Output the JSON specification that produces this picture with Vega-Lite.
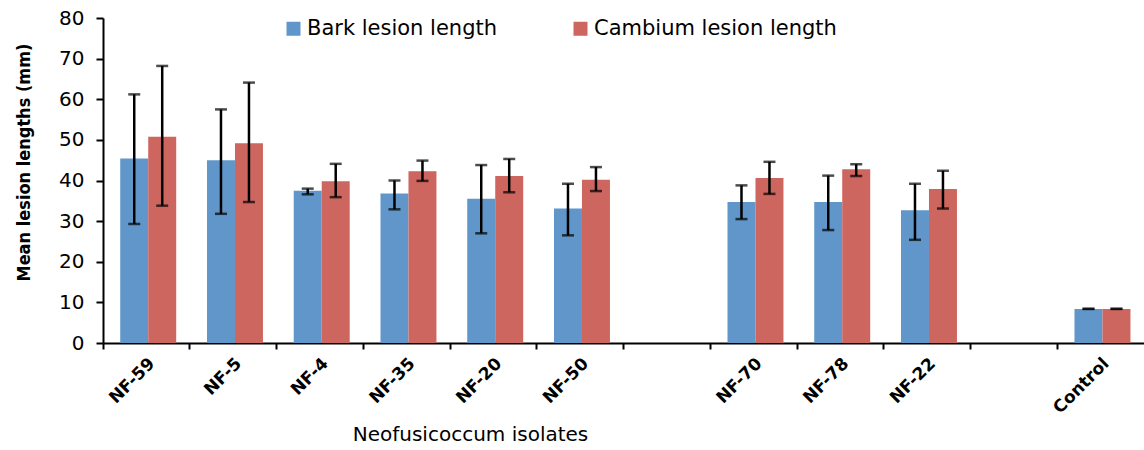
{
  "$schema": "https://vega.github.io/schema/vega-lite/v6.json",
  "width": 1041,
  "height": 325,
  "padding": {"left": 15, "top": 8, "right": 0, "bottom": 0},
  "config": {"view": {"stroke": null}, "font": "DejaVu Sans"},
  "data": {
    "values": [
      {"isolate": "NF-59", "series": "Bark lesion length", "mean": 45.4, "low": 29.3, "high": 61.2},
      {"isolate": "NF-59", "series": "Cambium lesion length", "mean": 50.8, "low": 33.8, "high": 68.2},
      {"isolate": "NF-5", "series": "Bark lesion length", "mean": 45.0, "low": 31.8, "high": 57.5},
      {"isolate": "NF-5", "series": "Cambium lesion length", "mean": 49.2, "low": 34.7, "high": 64.1},
      {"isolate": "NF-4", "series": "Bark lesion length", "mean": 37.5, "low": 36.6, "high": 38.0},
      {"isolate": "NF-4", "series": "Cambium lesion length", "mean": 39.8, "low": 35.9, "high": 44.1},
      {"isolate": "NF-35", "series": "Bark lesion length", "mean": 36.8, "low": 32.9, "high": 40.0},
      {"isolate": "NF-35", "series": "Cambium lesion length", "mean": 42.3, "low": 39.9, "high": 44.9},
      {"isolate": "NF-20", "series": "Bark lesion length", "mean": 35.5, "low": 27.0, "high": 43.8},
      {"isolate": "NF-20", "series": "Cambium lesion length", "mean": 41.1, "low": 37.1, "high": 45.3},
      {"isolate": "NF-50", "series": "Bark lesion length", "mean": 33.1, "low": 26.5, "high": 39.2},
      {"isolate": "NF-50", "series": "Cambium lesion length", "mean": 40.2, "low": 37.4, "high": 43.3},
      {"isolate": "NF-70", "series": "Bark lesion length", "mean": 34.7, "low": 30.5, "high": 38.8},
      {"isolate": "NF-70", "series": "Cambium lesion length", "mean": 40.6, "low": 36.7, "high": 44.6},
      {"isolate": "NF-78", "series": "Bark lesion length", "mean": 34.7, "low": 27.8, "high": 41.2},
      {"isolate": "NF-78", "series": "Cambium lesion length", "mean": 42.8, "low": 41.1, "high": 44.0},
      {"isolate": "NF-22", "series": "Bark lesion length", "mean": 32.7, "low": 25.4, "high": 39.2},
      {"isolate": "NF-22", "series": "Cambium lesion length", "mean": 37.9, "low": 33.1, "high": 42.4},
      {"isolate": "Control", "series": "Bark lesion length", "mean": 8.4, "low": 8.4, "high": 8.4},
      {"isolate": "Control", "series": "Cambium lesion length", "mean": 8.4, "low": 8.4, "high": 8.4}
    ]
  },
  "encoding": {
    "x": {
      "field": "isolate",
      "type": "nominal",
      "sort": null,
      "scale": {
        "domain": ["NF-59", "NF-5", "NF-4", "NF-35", "NF-20", "NF-50", "gap1", "NF-70", "NF-78", "NF-22", "gap2", "Control"],
        "paddingInner": 0,
        "paddingOuter": 0
      },
      "axis": {
        "bandPosition": 0,
        "labelExpr": "indexof(datum.label, 'gap') == 0 ? '' : datum.label",
        "labelAngle": -45,
        "labelFont": "DejaVu Sans",
        "labelFontWeight": "bold",
        "labelFontSize": 17,
        "labelColor": "#000000",
        "labelPadding": 6,
        "domainColor": "#000000",
        "domainWidth": 2,
        "tickColor": "#000000",
        "tickWidth": 2,
        "tickSize": 6,
        "title": "Neofusicoccum isolates",
        "titleFont": "DejaVu Sans",
        "titleFontSize": 20,
        "titleFontWeight": "normal",
        "titleColor": "#000000",
        "titleX": 367,
        "titleY": 81
      }
    },
    "xOffset": {
      "field": "series",
      "type": "nominal",
      "scale": {"domain": ["Bark lesion length", "Cambium lesion length"], "paddingInner": 0, "paddingOuter": 0.55, "align": 0.56}
    }
  },
  "layer": [
    {
      "mark": {"type": "bar"},
      "encoding": {
        "y": {
          "field": "mean",
          "type": "quantitative",
          "scale": {"domain": [0, 80], "nice": false},
          "axis": {
            "values": [0, 10, 20, 30, 40, 50, 60, 70, 80],
            "grid": false,
            "labelFont": "DejaVu Sans",
            "labelFontSize": 20,
            "labelColor": "#000000",
            "labelPadding": 12,
            "domainColor": "#000000",
            "domainWidth": 2,
            "tickColor": "#000000",
            "tickWidth": 2,
            "tickSize": 7,
            "title": "Mean lesion lengths (mm)",
            "titleFont": "DejaVu Sans Condensed",
            "titleFontWeight": "bold",
            "titleFontSize": 18,
            "titleColor": "#000000",
            "titlePadding": 25,
            "titleY": 144
          }
        },
        "color": {
          "field": "series",
          "type": "nominal",
          "scale": {"domain": ["Bark lesion length", "Cambium lesion length"], "range": ["#6096c9", "#cd665f"]},
          "legend": {
            "title": null,
            "orient": "none",
            "legendX": 180,
            "legendY": 0,
            "direction": "horizontal",
            "symbolType": "square",
            "symbolSize": 196,
            "symbolStrokeWidth": 0,
            "symbolOpacity": 1,
            "labelFont": "DejaVu Sans",
            "labelFontSize": 21,
            "labelColor": "#000000",
            "labelOffset": 3,
            "columnPadding": 72,
            "labelLimit": 400
          }
        }
      }
    },
    {
      "mark": {"type": "rule", "color": "#000000", "strokeWidth": 2.5},
      "encoding": {
        "y": {"field": "low", "type": "quantitative"},
        "y2": {"field": "high"}
      }
    },
    {
      "mark": {"type": "tick", "color": "#000000", "size": 12, "thickness": 2.5},
      "encoding": {
        "y": {"field": "high", "type": "quantitative"}
      }
    },
    {
      "mark": {"type": "tick", "color": "#000000", "size": 12, "thickness": 2.5},
      "encoding": {
        "y": {"field": "low", "type": "quantitative"}
      }
    }
  ]
}
